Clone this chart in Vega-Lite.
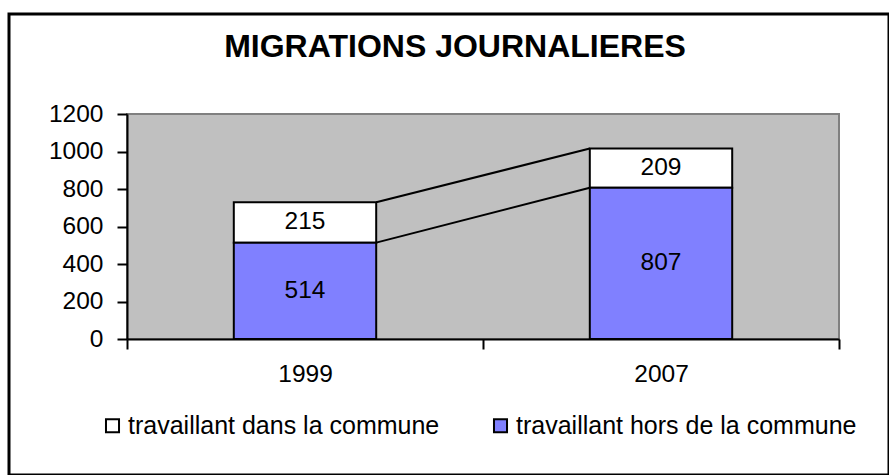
{
  "$schema": "https://vega.github.io/schema/vega-lite/v6.json",
  "width": 880,
  "height": 461,
  "autosize": {"type": "none"},
  "padding": {"left": 9, "top": 14, "right": 0, "bottom": 0},
  "background": "white",
  "config": {
    "view": {"stroke": "black", "strokeWidth": 3, "fill": "white"},
    "font": "Liberation Sans"
  },
  "title": {
    "text": "MIGRATIONS JOURNALIERES",
    "fontSize": 32,
    "fontWeight": "bold",
    "font": "Liberation Sans",
    "color": "black",
    "anchor": "middle",
    "dx": 6,
    "offset": -50
  },
  "datasets": {
    "bars": [
      {"year": "1999", "series": "travaillant dans la commune", "value": 215},
      {"year": "1999", "series": "travaillant hors de la commune", "value": 514},
      {"year": "2007", "series": "travaillant dans la commune", "value": 209},
      {"year": "2007", "series": "travaillant hors de la commune", "value": 807}
    ],
    "links": [
      {"from": "1999", "to": "2007", "start": 514, "end": 807},
      {"from": "1999", "to": "2007", "start": 729, "end": 1016}
    ],
    "plot": [{"first": "1999", "last": "2007", "low": 0, "high": 1200}]
  },
  "layer": [
    {
      "data": {"name": "plot"},
      "mark": {"type": "rect", "fill": "#C0C0C0", "stroke": "#808080", "strokeWidth": 2},
      "encoding": {
        "x": {
          "field": "first",
          "type": "nominal",
          "bandPosition": 0,
          "title": null,
          "scale": {"type": "band", "domain": ["1999", "2007"], "range": [118, 830], "paddingInner": 0, "paddingOuter": 0},
          "axis": {
            "orient": "bottom",
            "offset": -136,
            "tickBand": "extent",
            "labelAngle": 0,
            "labelFontSize": 24.5,
            "labelFont": "Liberation Sans",
            "labelColor": "black",
            "labelPadding": 13,
            "domainColor": "black",
            "domainWidth": 2,
            "tickColor": "black",
            "tickWidth": 2,
            "tickSize": 10,
            "zindex": 1
          }
        },
        "x2": {"field": "last", "bandPosition": 1},
        "y": {
          "field": "low",
          "type": "quantitative",
          "title": null,
          "scale": {"domain": [0, 1200], "range": [325, 100], "nice": false},
          "axis": {
            "orient": "left",
            "offset": -118,
            "values": [0, 200, 400, 600, 800, 1000, 1200],
            "format": "d",
            "grid": false,
            "labelFontSize": 24.5,
            "labelFont": "Liberation Sans",
            "labelColor": "black",
            "labelPadding": 14,
            "domainColor": "black",
            "domainWidth": 2,
            "tickColor": "black",
            "tickWidth": 2,
            "tickSize": 10,
            "zindex": 1
          }
        },
        "y2": {"field": "high"}
      }
    },
    {
      "data": {"name": "links"},
      "mark": {"type": "rule", "color": "black", "strokeWidth": 2},
      "encoding": {
        "x": {"field": "from", "type": "nominal", "bandPosition": 0.7, "title": null},
        "x2": {"field": "to", "bandPosition": 0.3},
        "y": {"field": "start", "type": "quantitative", "title": null},
        "y2": {"field": "end"}
      }
    },
    {
      "data": {"name": "bars"},
      "transform": [
        {"stack": "value", "groupby": ["year"], "sort": [{"field": "series", "order": "descending"}], "as": ["v0", "v1"]}
      ],
      "mark": {"type": "bar", "stroke": "black", "strokeWidth": 2, "width": {"band": 0.4}},
      "encoding": {
        "x": {"field": "year", "type": "nominal", "title": null},
        "y": {"field": "v0", "type": "quantitative", "title": null},
        "y2": {"field": "v1"},
        "color": {
          "field": "series",
          "type": "nominal",
          "scale": {"domain": ["travaillant dans la commune", "travaillant hors de la commune"], "range": ["#FFFFFF", "#8080FF"]},
          "legend": {
            "orient": "none",
            "legendX": 91,
            "legendY": 399,
            "direction": "horizontal",
            "title": null,
            "symbolType": "square",
            "symbolSize": 170,
            "symbolStrokeColor": "black",
            "symbolStrokeWidth": 2,
            "symbolOpacity": 1,
            "labelFontSize": 25,
            "labelFont": "Liberation Sans",
            "labelColor": "black",
            "labelLimit": 0,
            "labelOffset": 3,
            "columnPadding": 48
          }
        }
      }
    },
    {
      "data": {"name": "bars"},
      "transform": [
        {"stack": "value", "groupby": ["year"], "sort": [{"field": "series", "order": "descending"}], "as": ["v0", "v1"]},
        {"calculate": "(datum.v0 + datum.v1) / 2", "as": "mid"}
      ],
      "mark": {"type": "text", "fontSize": 24.5, "font": "Liberation Sans", "color": "black", "baseline": "middle", "align": "center"},
      "encoding": {
        "x": {"field": "year", "type": "nominal", "title": null},
        "y": {"field": "mid", "type": "quantitative", "title": null},
        "text": {"field": "value", "type": "quantitative"}
      }
    }
  ]
}
